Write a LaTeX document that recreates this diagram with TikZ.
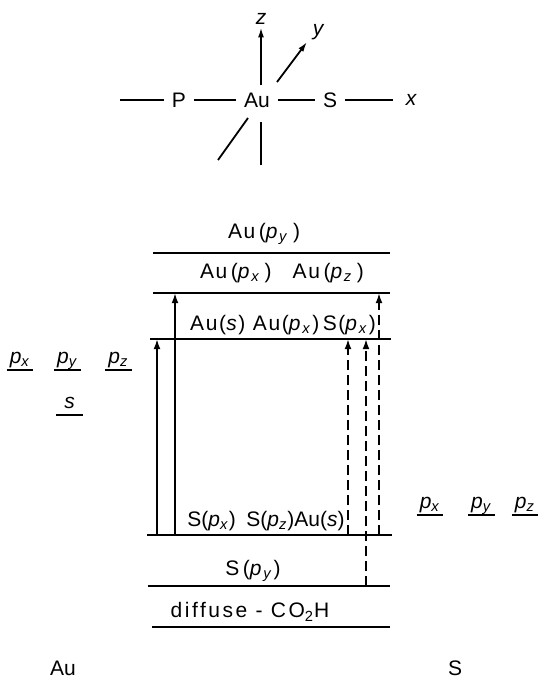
\documentclass[tikz,border=0pt]{standalone}
\usepackage{fontspec}
\setmainfont{Liberation Sans}
\usetikzlibrary{arrows.meta, positioning}
\newcommand{\orb}[1]{\textit{p}\textsubscript{\textit{#1}}}
\newcommand{\basefont}{\fontsize{10.5}{12}\selectfont}
\tikzset{
  every picture/.style={font=\basefont, line width=0.9pt},
  atom/.style={inner sep=3.5pt},
  axlab/.style={font=\basefont\itshape, inner sep=1pt},
  axarrow/.style={-{Latex[length=5pt, width=3pt]}},
  bond/.style={line width=1.4pt},
  level/.style={line width=1.1pt},
  levellab/.style={font=\basefont\addfontfeatures{LetterSpace=#1}, inner sep=1pt},
  levellab/.default=8,
  orbl/.style={inner sep=1pt, text depth=2pt, minimum width=12.5pt, anchor=south},
  trans/.style={-{Latex[length=5pt, width=3.4pt]}, line width=0.9pt},
  dsh/.style={dash pattern=on 5pt off 2.5pt},
}

\begin{document}
\begin{tikzpicture}[x=0.5pt, y=-0.5pt]
  \useasboundingbox (0,0) rectangle (542,679);
  % the molecule and its axes
  \node[atom] (P) at (179,100) {P};
  \node[atom] (Au) at (257,100) {Au};
  \node[atom] (S) at (330,100) {S};
  \node[axlab] (xlab) at (411,100) {x};
  \node[axlab] (zlab) at (261,19) {z};
  \node[axlab] (ylab) at (318,32) {y};
  \coordinate (xneg) at (120,100);
  \coordinate (xpos) at (393,100);
  \coordinate (ytail) at (277,82);
  \coordinate (ytip) at (307,42);
  \coordinate (zstart) at (261,122);
  \coordinate (zneg) at (261,165);
  \coordinate (ystart) at (248,118);
  \coordinate (yneg) at (218,160);
  \draw (xneg) -- (P);
  \draw (P) -- (Au);
  \draw[bond] (Au) -- (S);
  \draw (S) -- (xpos);
  \draw[axarrow] (Au.north -| zlab) -- (zlab.south);
  \draw[axarrow] (ytail) -- (ytip);
  \draw (zstart) -- (zneg);
  \draw (ystart) -- (yneg);

  % levels of the complex
  \foreach \n/\y/\a/\b in {1/253/153/390, 2/293/153/390, 3/339/150/391,
      4/535/147/392, 5/586/148/390, 6/627/152/390} {
    \coordinate (l\n) at (\a,\y);
    \coordinate (r\n) at (\b,\y);
    \draw[level] (l\n) -- (r\n);
  }
  \node[levellab] (t1) at (264,234) {Au\,(\orb{y}\,)};
  \node[levellab] (t2) at (282,273) {Au\,(\orb{x}\,)\quad Au\,(\orb{z}\,)};
  \node[levellab] (t3) at (283,325) {Au(\textit{s}) Au(\orb{x})\,S(\orb{x})};
  \node[levellab=0] (t4) at (266,521) {S(\orb{x})\enspace S(\orb{z})Au(\textit{s})};
  \node[levellab] (t5) at (253,571) {S\,(\orb{y})};
  \node[levellab=12] (t6) at (250,612) {diffuse - CO\textsubscript{2}H};

  % transitions
  \foreach \x/\from/\to/\ls in {157/4/3/solid, 175/4/2/solid, 348/4/3/dsh,
      366/5/3/dsh, 379/4/2/dsh}
    \draw[trans, \ls] (\x,0 |- l\from) -- (\x,0 |- l\to);

  % atomic levels of Au and S
  \foreach \nm/\x/\y/\txt in {apx/20/370/\orb{x}, apy/67.5/370/\orb{y},
      apz/118.5/370/\orb{z}, as/69.5/415/\textit{s}, spx/430/515/\orb{x},
      spy/481.5/515/\orb{y}, spz/525/515/\orb{z}} {
    \node[orbl] (\nm) at (\x,\y) {\txt};
    \draw[level] (\nm.south west) -- (\nm.south east);
  }
  \node (auname) at (63,668) {Au};
  \node (sname) at (455,668) {S};
\end{tikzpicture}
\end{document}
